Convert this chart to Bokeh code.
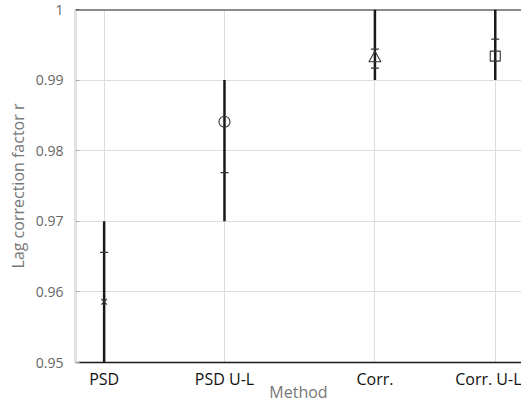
from bokeh.plotting import figure
from bokeh.models import FixedTicker, NumeralTickFormatter, Span, Range1d
from bokeh.embed import file_html
from bokeh.resources import INLINE

# ---- data ----
methods = ["PSD", "PSD U-L", "Corr.", "Corr. U-L"]
x_pos = [1, 2, 3.25, 4.25]
estimate = [0.9586, 0.9841, 0.9931, 0.9934]
err_low = [0.95, 0.97, 0.99, 0.99]
err_high = [0.97, 0.99, 1.0, 1.0]
inner_x = [1, 2, 3.25, 3.25, 4.25]
inner_y = [0.9656, 0.9769, 0.9944, 0.9917, 0.9958]
y_ticks = [0.95, 0.96, 0.97, 0.98, 0.99, 1.0]
marker_kinds = ["x", "circle", "triangle", "square"]

FONT = "Open Sans"

p = figure(width=521, height=405, output_backend="svg", toolbar_location=None,
           x_range=Range1d(0.762, 4.468), y_range=Range1d(0.95, 1.0),
           min_border_left=75, min_border_top=9, min_border_right=0, min_border_bottom=40)
p.outline_line_color = None

# grid
p.xgrid.grid_line_color = "#dddddd"
p.ygrid.grid_line_color = "#dddddd"
p.xaxis.ticker = FixedTicker(ticks=x_pos)
p.yaxis.ticker = FixedTicker(ticks=y_ticks)
p.xaxis.major_label_overrides = {x: m for x, m in zip(x_pos, methods)}
p.yaxis.formatter = NumeralTickFormatter(format="0.[00]")

# x axis
p.xaxis.axis_line_color = "#1a1a1a"
p.xaxis.axis_line_width = 1.5
p.xaxis.major_tick_line_color = None
p.xaxis.major_tick_out = 0
p.xaxis.major_tick_in = 0
p.xaxis.minor_tick_line_color = None
p.xaxis.major_label_text_font = FONT
p.xaxis.major_label_text_font_size = "16px"
p.xaxis.major_label_text_color = "#111111"
p.xaxis.major_label_standoff = 5
p.xaxis.axis_label = "Method"
p.xaxis.axis_label_text_font = FONT
p.xaxis.axis_label_text_font_style = "normal"
p.xaxis.axis_label_text_font_size = "16px"
p.xaxis.axis_label_text_color = "#777777"
p.xaxis.axis_label_standoff = -12

# y axis
p.yaxis.axis_line_color = "#e2e2e2"
p.yaxis.axis_line_width = 3
p.yaxis.major_tick_line_color = "#aaaaaa"
p.yaxis.major_tick_in = 4
p.yaxis.major_tick_out = 0
p.yaxis.minor_tick_line_color = None
p.yaxis.major_label_text_font = FONT
p.yaxis.major_label_text_font_size = "14px"
p.yaxis.major_label_text_color = "#666666"
p.yaxis.major_label_standoff = 12
p.yaxis.axis_label = "Lag correction factor r"
p.yaxis.axis_label_text_font = FONT
p.yaxis.axis_label_text_font_style = "normal"
p.yaxis.axis_label_text_font_size = "16px"
p.yaxis.axis_label_text_color = "#777777"
p.yaxis.axis_label_standoff = 4

# top line
p.add_layout(Span(location=1.0, dimension="width", line_color="#1a1a1a", line_width=2))

# error bars
p.segment(x0=x_pos, y0=err_low, x1=x_pos, y1=err_high, line_color="#1a1a1a", line_width=2.5)

# inner dashes
p.scatter(x=inner_x, y=inner_y, marker="dash", size=8, line_color="#333333", line_width=1.2)

# estimate markers
for xv, yv, mk in zip(x_pos, estimate, marker_kinds):
    sz = {"x": 8, "circle": 11, "triangle": 12, "square": 10}[mk]
    p.scatter(x=[xv], y=[yv], marker=mk, size=sz, fill_color=None,
              line_color="#333333", line_width=1.1)

open("out.html", "w").write(file_html(p, INLINE))
